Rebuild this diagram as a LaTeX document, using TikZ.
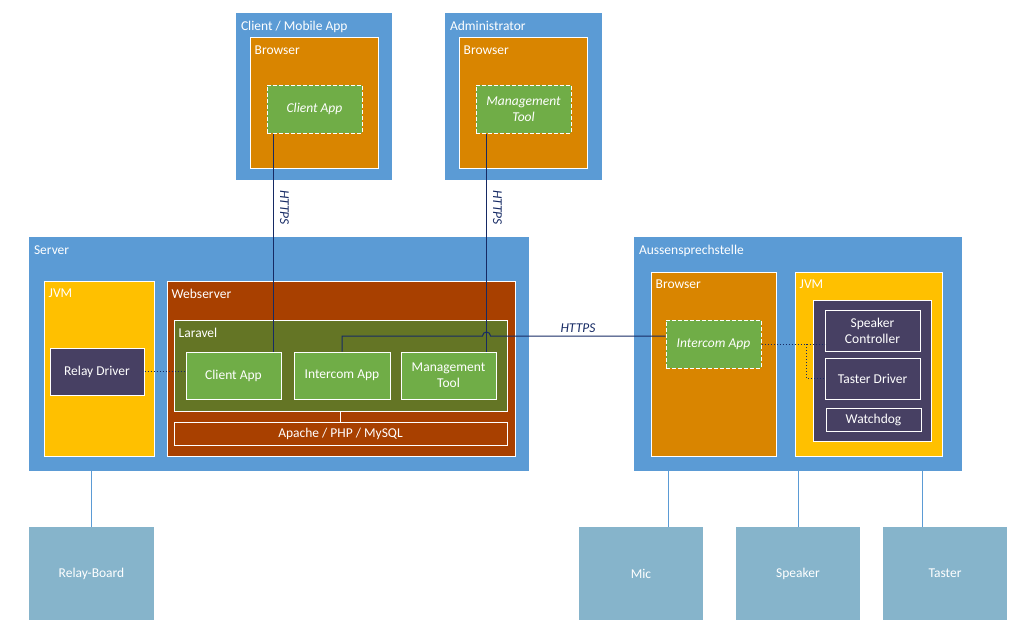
\documentclass[tikz,border=0pt]{standalone}
\usepackage{fontspec}
\setmainfont{Carlito}
\usetikzlibrary{positioning, calc}
\definecolor{hostblue}{RGB}{91, 155, 213}
\definecolor{browserorange}{RGB}{217, 133, 0}
\definecolor{appgreen}{RGB}{112, 173, 71}
\definecolor{laravelgreen}{RGB}{100, 117, 37}
\definecolor{webrust}{RGB}{168, 64, 0}
\definecolor{jvmyellow}{RGB}{255, 192, 0}
\definecolor{driverpurple}{RGB}{71, 64, 99}
\definecolor{devicegrey}{RGB}{134, 180, 203}
\definecolor{linknavy}{RGB}{22, 42, 100}

\begin{document}
\begin{tikzpicture}[x=1pt, y=-1pt, font=\fontsize{13.5}{15.5}\selectfont]
    \tikzstyle{host} = [rectangle, fill=hostblue, text=white, inner sep=0pt]
    \tikzstyle{layer} = [rectangle, draw=white, line width=1pt, text=white, inner sep=0pt]
    \tikzstyle{webapp} = [layer, fill=appgreen, dashed, dash pattern=on 4pt off 2pt, font=\fontsize{13.5}{16}\selectfont\itshape, align=center]
    \tikzstyle{srvapp} = [layer, fill=appgreen, align=center, font=\fontsize{13.5}{16}\selectfont]
    \tikzstyle{driver} = [layer, fill=driverpurple, align=center, font=\fontsize{13.5}{16}\selectfont]
    \tikzstyle{device} = [rectangle, fill=devicegrey, text=white, inner sep=0pt]
    \tikzstyle{title} = [anchor=north west, inner sep=0pt, xshift=5pt, yshift=-8.5pt, text=white]
    \tikzstyle{link} = [line width=1pt, linknavy]
    \tikzstyle{proto} = [font=\fontsize{13.5}{15.5}\selectfont\itshape, text=linknavy]
    \tikzstyle{local} = [line width=1pt, linknavy, dotted]
    \tikzstyle{tie} = [line width=0.8pt, hostblue]

    \useasboundingbox (0,0) rectangle (1028,642);

    % client and administrator
    \node[host, minimum width=156pt, minimum height=167pt, label={[title]north west:Client / Mobile App}] (cli) at (314,96.5) {};
    \node[layer, fill=browserorange, minimum width=128pt, minimum height=130pt, label={[title]north west:Browser}] (cbr) at (314,103) {};
    \node[webapp, minimum width=95pt, minimum height=48pt] (cca) at (314.5,109) {Client App};
    \node[host, minimum width=157pt, minimum height=167pt, label={[title]north west:Administrator}] (adm) at (523.5,96.5) {};
    \node[layer, fill=browserorange, minimum width=128pt, minimum height=130pt, label={[title]north west:Browser}] (abr) at (523,103) {};
    \node[webapp, minimum width=95pt, minimum height=48pt] (amt) at (523.5,109) {Management\\Tool};

    % server
    \node[host, minimum width=500pt, minimum height=234pt, label={[title]north west:Server}] (srv) at (279,354) {};
    \node[layer, fill=jvmyellow, minimum width=110pt, minimum height=175pt, label={[title]north west:JVM}] (sjvm) at (99,368.5) {};
    \node[driver, minimum width=94pt, minimum height=47pt] (srd) at (97,371.5) {Relay Driver};
    \node[layer, fill=webrust, minimum width=348pt, minimum height=175pt, label={[title]north west:Webserver}] (web) at (341,368.5) {};
    \node[layer, fill=laravelgreen, minimum width=333pt, minimum height=91pt, label={[title]north west:Laravel}] (lar) at (340.5,365.5) {};
    \node[srvapp, minimum width=95pt, minimum height=47pt] (sca) at (233.5,375.5) {Client App};
    \node[srvapp, minimum width=96pt, minimum height=47pt] (sia) at (342,375.5) {Intercom App};
    \node[srvapp, minimum width=95pt, minimum height=47pt] (smt) at (448.5,375.5) {Management\\Tool};
    \node[layer, fill=webrust, minimum width=333pt, minimum height=23pt] (amp) at (340.5,433.5) {Apache / PHP / MySQL};

    % aussensprechstelle
    \node[host, minimum width=328pt, minimum height=234pt, label={[title]north west:Aussensprechstelle}] (aus) at (798,354) {};
    \node[layer, fill=browserorange, minimum width=125pt, minimum height=184pt, label={[title]north west:Browser}] (bbr) at (713.5,364) {};
    \node[webapp, minimum width=95pt, minimum height=48pt] (aia) at (713.5,344) {Intercom App};
    \node[layer, fill=jvmyellow, minimum width=147pt, minimum height=184pt, label={[title]north west:JVM}] (bjvm) at (868.5,364) {};
    \node[layer, fill=driverpurple, minimum width=118pt, minimum height=141pt] (drv) at (872,370.5) {};
    \node[driver, minimum width=95pt, minimum height=41pt] (spc) at (872.5,330.5) {Speaker\\Controller};
    \node[driver, minimum width=95pt, minimum height=41pt] (tsd) at (872.5,378.5) {Taster Driver};
    \node[driver, minimum width=95pt, minimum height=23pt] (wdg) at (873.5,419.5) {Watchdog};

    % hardware
    \node[device, minimum width=125pt, minimum height=93pt] (rb) at (91.5,573.5) {Relay-Board};
    \node[device, minimum width=124pt, minimum height=93pt] (mic) at (641,573.5) {Mic};
    \node[device, minimum width=124pt, minimum height=93pt] (spk) at (798,573.5) {Speaker};
    \node[device, minimum width=124pt, minimum height=93pt] (tst) at (945,573.5) {Taster};

    % connections
    \draw[white, line width=1pt] (lar.south) -- (amp.north);
    \coordinate (cdown) at ($(cca.south west)+(7,0)$);
    \coordinate (adown) at ($(amt.south west)+(11,0)$);
    \draw[link] (cdown) -- node[proto, pos=0.34, rotate=-90, anchor=south, inner sep=6pt] {HTTPS} (cdown |- sca.north);
    \draw[link] (adown) -- node[proto, pos=0.34, rotate=-90, anchor=south, inner sep=6pt] {HTTPS} (adown |- smt.north);
    \coordinate (hop) at (adown |- 0,336);
    \draw[link] (sia.north) |- ($(hop)+(-4,0)$) arc (180:360:4) -- node[proto, above] {HTTPS} (aia.west |- hop);
    \draw[local] (srd.east) -- (srd.east -| sca.west);
    \draw[local] (aia.east) -- (aia.east -| spc.west);
    \draw[local] ($(aia.east)+(45,0)$) |- (tsd.west);
    \coordinate (micup) at ($(mic.north)+(27,0)$);
    \coordinate (tstup) at ($(tst.north)+(-23,0)$);
    \draw[tie] (rb.north) -- (rb.north |- srv.south);
    \draw[tie] (micup) -- (micup |- aus.south);
    \draw[tie] (spk.north) -- (spk.north |- aus.south);
    \draw[tie] (tstup) -- (tstup |- aus.south);
\end{tikzpicture}
\end{document}
